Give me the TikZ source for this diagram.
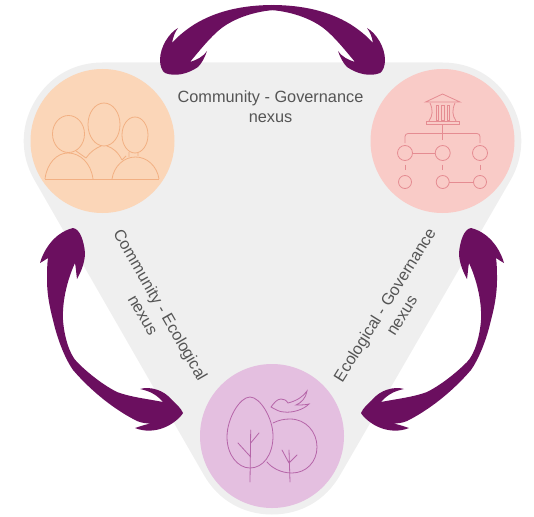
\documentclass[tikz,border=0pt]{standalone}
\usepackage{fontspec}
\setmainfont{Liberation Sans}
\definecolor{hullgrey}{HTML}{EFEFEF}
\definecolor{plum}{HTML}{6B0F5F}
\definecolor{textgrey}{HTML}{555555}
\definecolor{orangefill}{HTML}{FBD6B8}
\definecolor{orangeline}{HTML}{F2B083}
\definecolor{pinkfill}{HTML}{F9CBC7}
\definecolor{pinkline}{HTML}{E58C92}
\definecolor{mauvefill}{HTML}{E4BFE0}
\definecolor{mauveline}{HTML}{B565A8}
\newcommand{\tophalf}{(274,5) .. controls (240,5) and (215,12) .. (195,24)
  .. controls (187,29) and (178,36) .. (172,43)
  .. controls (173,37) and (175,32) .. (178,28)
  .. controls (169,33) and (160,47) .. (160,60)
  .. controls (160,66) and (162,71) .. (165,73)
  .. controls (175,77) and (188,74) .. (198,67)
  .. controls (202,63) and (205,57) .. (207,51)
  .. controls (204,56) and (197,60) .. (190,62)
  .. controls (200,50) and (212,35) .. (223,27)
  .. controls (233,20) and (250,12) .. (274,10) -- cycle}
\newcommand{\sidearrow}{(73,228) .. controls (80,229) and (84,241) .. (85,253)
  .. controls (85,262) and (81,272) .. (77,279)
  .. controls (76,272) and (76,268) .. (75,263)
  .. controls (68,278) and (62,300) .. (63,320)
  .. controls (64,335) and (69,354) .. (77,362)
  .. controls (90,375) and (105,386) .. (117,392)
  .. controls (130,397) and (148,399) .. (163,402)
  .. controls (157,395) and (150,391) .. (140,389)
  .. controls (150,386) and (164,390) .. (172,400)
  .. controls (176,404) and (181,408) .. (183,413)
  .. controls (181,417) and (172,425) .. (163,428)
  .. controls (155,431) and (145,432) .. (135,428)
  .. controls (141,426) and (147,424) .. (153,423)
  .. controls (147,424) and (142,423) .. (137,421)
  .. controls (115,410) and (92,392) .. (73,370)
  .. controls (66,360) and (58,342) .. (53,320)
  .. controls (49,305) and (47,292) .. (47,280)
  .. controls (47,272) and (47,265) .. (48,258)
  .. controls (45,260) and (42,262) .. (40,263)
  .. controls (43,252) and (53,233) .. (73,228) -- cycle}
\tikzset{
  hub/.style={circle,minimum size=144pt,inner sep=0pt},
  nexuslabel/.style={text=textgrey,font=\fontsize{16.3}{20}\selectfont,align=center,inner sep=0pt},
  plumarrow/.style={fill=plum,draw=none},
  peopleicon/.style={draw=orangeline,line width=0.8pt,fill=none},
  govicon/.style={draw=pinkline,line width=0.8pt,fill=none},
  treeicon/.style={draw=mauveline,line width=0.8pt,fill=none,line cap=round}
}
\begin{document}
\begin{tikzpicture}[x=1pt,y=-1pt]
\useasboundingbox (0,0) rectangle (534,516);
\coordinate (hc) at (102.5,141);
\coordinate (hg) at (442.5,141);
\coordinate (he) at (272,436);
% grey rounded triangle behind the hubs
\draw[hullgrey,fill=hullgrey,line width=157pt,line join=round] (hc) -- (hg) -- (he) -- cycle;
% hubs
\node[hub,fill=orangefill] (community) at (hc) {};
\node[hub,fill=pinkfill] (governance) at (hg) {};
\node[hub,fill=mauvefill] (ecological) at (he) {};
% arrows
\fill[plumarrow] \tophalf;
\begin{scope}[xshift=545pt,xscale=-1]
\fill[plumarrow] \tophalf;
\end{scope}
\fill[plumarrow] \sidearrow;
\begin{scope}[xshift=544pt,xscale=-1]
\fill[plumarrow] \sidearrow;
\end{scope}
% labels
\node[nexuslabel] (cglabel) at (270.5,107) {Community - Governance\\nexus};
\node[nexuslabel,rotate=-60] (celabel) at (152,310) {Community - Ecological\\nexus};
\node[nexuslabel,rotate=58] (eglabel) at (393,310) {Ecological - Governance\\nexus};
% people icon
\draw[peopleicon] (68.5,134) ellipse (16pt and 18.5pt);
\draw[peopleicon] (104,124.5) ellipse (16pt and 21.5pt);
\draw[peopleicon] (135,135) ellipse (13pt and 18pt);
\draw[peopleicon] (45,179) -- (159,179);
\draw[peopleicon] (45,179) .. controls (47,163) and (57,153) .. (68,153) .. controls (80,153) and (91,163) .. (93,179);
\draw[peopleicon] (112,179) .. controls (114,166) and (124,157) .. (135.5,157) .. controls (147,157) and (157,166) .. (159,179);
\draw[peopleicon] (86,158) .. controls (90,152) and (96,148) .. (101,146) -- (101,145) (107,145) -- (107,146) .. controls (113,148) and (118,152) .. (122,160);
\draw[peopleicon] (76,151) -- (86,158) (129,152) -- (129,157) (138,153) -- (138,156) (122,160) -- (126,156);
% governance icon
\draw[govicon] (425.5,102) -- (442.5,94) -- (460,102) -- cycle;
\draw[govicon] (426,124) -- (459,124) -- (459,121) -- (426,121) -- cycle;
\draw[govicon] (430,103) .. controls (433,110) and (433,115) .. (429,121);
\draw[govicon] (455,103) .. controls (452,110) and (452,115) .. (456,121);
\draw[govicon] (436,105) rectangle (438.5,120) (441.5,105) rectangle (444,120) (447,105) rectangle (449.5,120);
\draw[govicon] (442.7,124) -- (442.7,140);
\draw[govicon,rounded corners=3pt] (405,143) -- (405,133.5) -- (480,133.5) -- (480,143);
\draw[govicon] (405,153) circle (7.5pt) (442.7,153) circle (7.5pt) (480,153) circle (7.5pt);
\draw[govicon] (405,182) circle (6.5pt) (442.7,182) circle (6.5pt) (480,182) circle (6.5pt);
\draw[govicon,line width=0.5pt] (412.5,153) -- (435.2,153) (449.2,182) -- (473.5,182);
\draw[govicon] (405,164.5) -- (405,170) (442.7,164.5) -- (442.7,170) (480,164.5) -- (480,170);
% tree icon
\draw[treeicon] (250,397) .. controls (240,397) and (227,418) .. (227,437) .. controls (227,455) and (238,468) .. (250,468) .. controls (263,468) and (273,455) .. (273,436) .. controls (273,418) and (260,397) .. (250,397) -- cycle;
\draw[treeicon] (250.7,430) -- (250,482) (259,433) -- (250.7,443) (238,443) -- (250.7,457);
\draw[treeicon] (273,423) .. controls (279,420) and (284,419) .. (290,419) .. controls (306,419) and (317,432) .. (317,447) .. controls (317,462) and (306,473) .. (292,473) .. controls (281,473) and (272,468) .. (267,462);
\draw[treeicon] (289,450) -- (290,482) (282,450) -- (289,463) (297,455) -- (289,463);
\draw[treeicon] (271,407) .. controls (274,403) and (277,399) .. (281,399) .. controls (284,399) and (286,400) .. (288,403) .. controls (296,401) and (303,397) .. (307,391) .. controls (306,398) and (301,403) .. (296,405) .. controls (300,405) and (305,405) .. (309,404) .. controls (303,410) and (292,413) .. (284,412) .. controls (279,412) and (275,409) .. (271,407) -- cycle;
\end{tikzpicture}
\end{document}
